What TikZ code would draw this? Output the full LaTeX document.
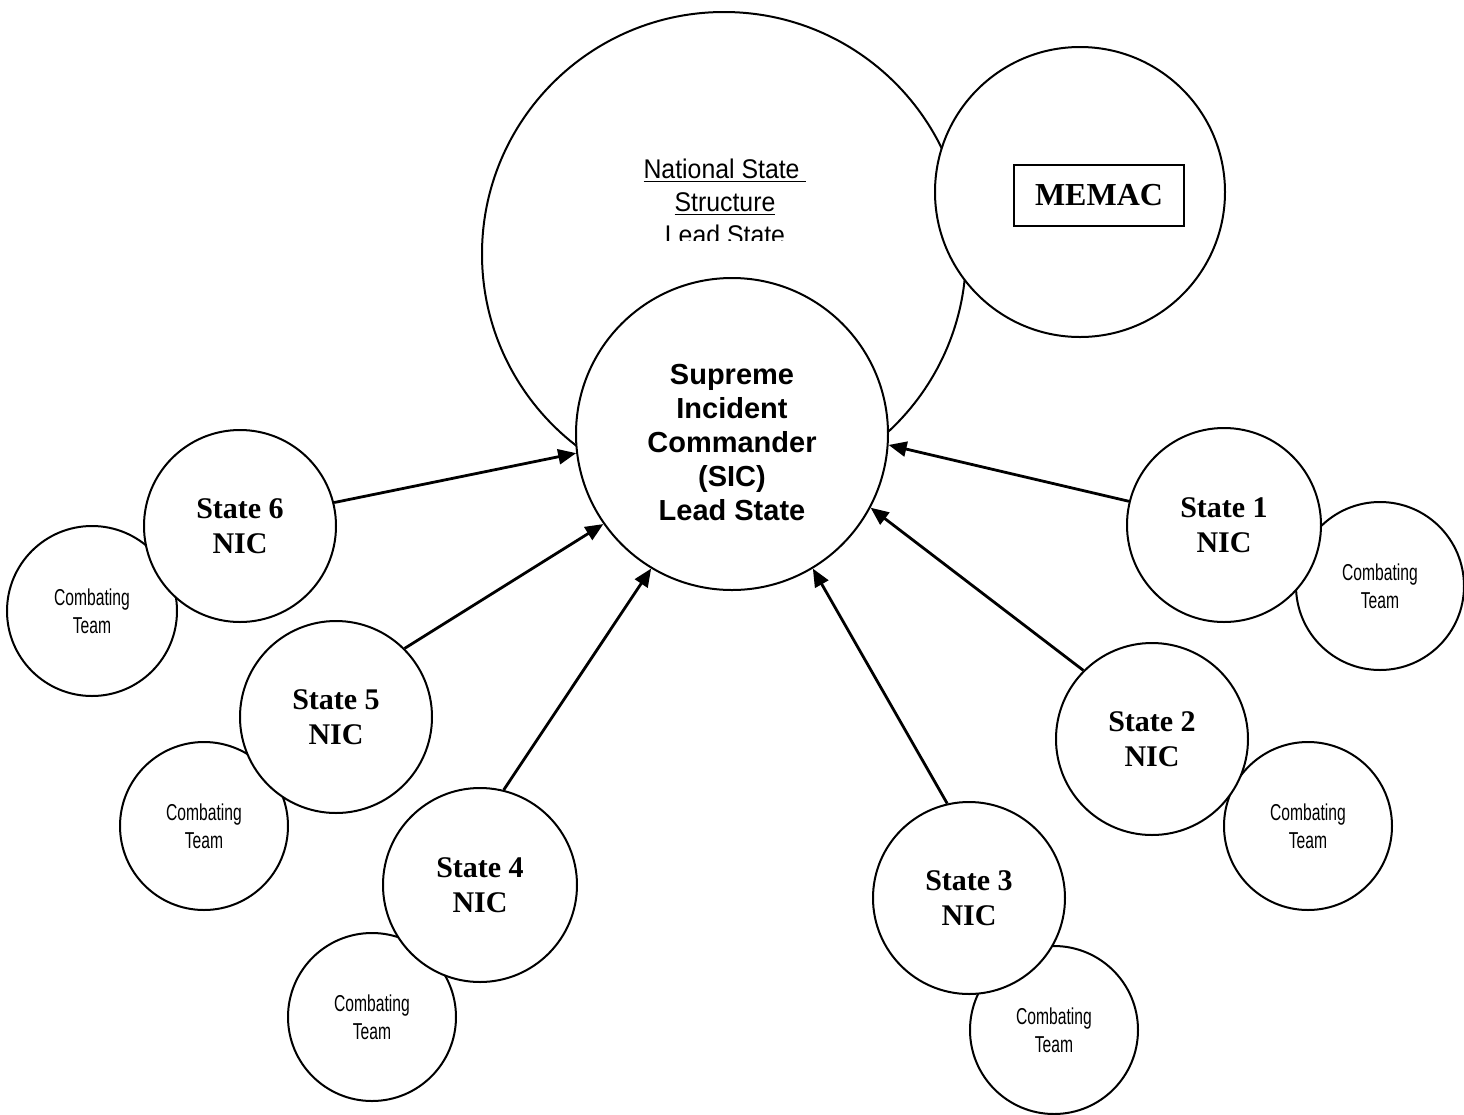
\documentclass[tikz,border=0pt]{standalone}
\usepackage{fontspec}
\setmainfont{Liberation Serif}
\newfontfamily\arialfont{Liberation Sans}
\newfontfamily\narrowfont[FakeStretch=0.92]{Liberation Sans}
\newfontfamily\condfont[FakeStretch=0.68]{Liberation Sans}
\usetikzlibrary{arrows.meta}
\begin{document}
\begin{tikzpicture}[x=0.5pt,y=-0.5pt,
  ring/.style={circle,draw,line width=1pt,fill=white,inner sep=0pt},
  statenode/.style={ring,minimum size=96pt,align=center,font=\bfseries\fontsize{15}{17.5}\selectfont},
  teamnode/.style={ring,minimum size=84pt,align=center,font=\condfont\fontsize{11.5}{14}\selectfont},
  arr/.style={line width=1.4pt,-{Triangle[length=9pt,width=7.5pt]}}]
\useasboundingbox (0,0) rectangle (1464,1115);
\fill[white] (0,0) rectangle (1464,1115);

% national structure
\node[ring,minimum size=242pt] (big) at (724,254) {};
\begin{scope}
  \clip (480,100) rectangle (970,240);
  \node[align=center,font=\narrowfont\fontsize{13.5}{16.5}\selectfont] (natl) at (725,202)
    {\underline{National State\ }\\\underline{Structure}\\Lead State};
\end{scope}
\node[ring,minimum size=145pt] (memc) at (1080,192) {};
\node[draw,line width=1pt,minimum width=85pt,minimum height=30.5pt,font=\bfseries\fontsize{16}{19}\selectfont] (memac) at (1099,195) {MEMAC};
\node[ring,minimum size=156pt] (sic) at (732,434) {};
\node[align=center,font=\arialfont\bfseries\fontsize{14.5}{17}\selectfont] (sictext) at (732,443)
  {Supreme\\Incident\\Commander\\(SIC)\\Lead State};

% combating teams
\node[teamnode] (c1) at (1380,586) {Combating\\Team};
\node[teamnode] (c2) at (1308,826) {Combating\\Team};
\node[teamnode] (c3) at (1054,1030) {Combating\\Team};
\node[teamnode] (c4) at (372,1017) {Combating\\Team};
\node[teamnode] (c5) at (204,826) {Combating\\Team};
\node[teamnode,minimum size=85pt] (c6) at (92,611) {Combating\\Team};

% states
\node[statenode,minimum size=97pt] (s1) at (1224,525) {State 1\\NIC};
\node[statenode] (s2) at (1152,739) {State 2\\NIC};
\node[statenode] (s3) at (969,898) {State 3\\NIC};
\node[statenode,minimum size=97pt] (s4) at (480,885) {State 4\\NIC};
\node[statenode] (s5) at (336,717) {State 5\\NIC};
\node[statenode] (s6) at (240,526) {State 6\\NIC};

% arrows
\draw[arr] (s6.14) -- (sic.187);
\draw[arr] (s5.45) -- (sic.215);
\draw[arr] (s4.76) -- (sic.239);
\draw[arr] (s3.103) -- (sic.301.5);
\draw[arr] (s2.135) -- (sic.332);
\draw[arr] (s1.166) -- (sic.356.5);
\end{tikzpicture}
\end{document}
